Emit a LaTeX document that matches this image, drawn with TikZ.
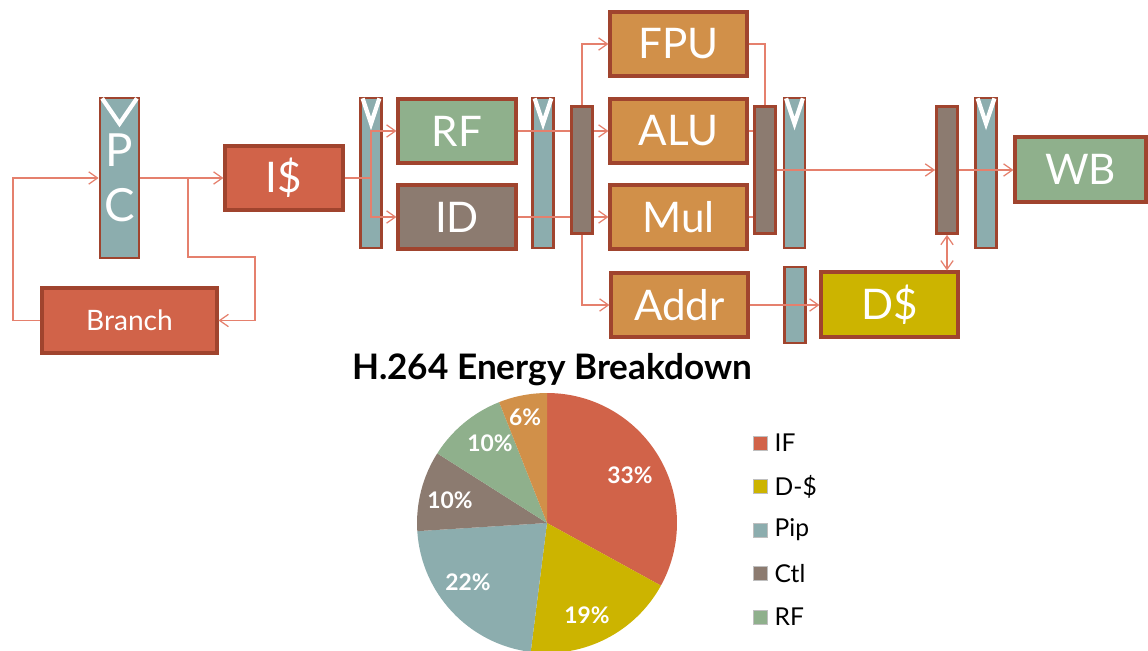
\documentclass[tikz,border=0pt]{standalone}
\usepackage{fontspec}
\setmainfont{Lato}
\usepackage{xcolor}
\definecolor{civred}{HTML}{D16349}
\definecolor{civyellow}{HTML}{CCB400}
\definecolor{civteal}{HTML}{8CADAE}
\definecolor{civbrown}{HTML}{8C7B70}
\definecolor{civgreen}{HTML}{8FB08C}
\definecolor{civorange}{HTML}{D19049}
\definecolor{edgered}{HTML}{A0442E}
\definecolor{linkred}{HTML}{E5806D}
\usetikzlibrary{arrows.meta,positioning,calc}

\begin{document}
\begin{tikzpicture}[x=0.02cm, y=-0.02cm,
  unitbox/.style={draw=edgered, line width=1.8pt, minimum width=2.36cm, minimum height=1.28cm,
    inner sep=0pt, text=white, font=\fontsize{24}{28}\selectfont},
  pipereg/.style={draw=edgered, line width=1.6pt, fill=civteal, minimum width=0.42cm,
    minimum height=3cm, inner sep=0pt},
  muxbox/.style={pipereg, fill=civbrown, minimum height=2.54cm},
  wire/.style={draw=linkred, line width=0.7pt},
  link/.style={wire, -{Straight Barb[length=5pt,width=7pt]}},
  vmark/.style={draw=white, line width=2.4pt},
  pct/.style={text=white, font=\bfseries\fontsize{13}{15}\selectfont},
  legsq/.style={draw=black!25, line width=0.3pt, minimum size=0.28cm, inner sep=0pt},
  legtext/.style={font=\fontsize{14}{16}\selectfont, inner sep=2pt}]
  \fill[white] (0,0) rectangle (1148,651);
  \useasboundingbox (0,0) rectangle (1148,651);

  % Pipeline registers and muxes
  \node[pipereg, minimum width=0.78cm, minimum height=3.2cm, align=center, text=white,
    font=\fontsize{26}{31}\selectfont] (pc) at (119.5,178) {P\\C};
  \foreach \name/\x/\y in {r1/371/173, r2/543/173, r3/794.5/173, r5/986/173}
    \node[pipereg] (\name) at (\x,\y) {};
  \node[pipereg, minimum height=1.52cm] (r4) at (795,305) {};
  \foreach \name/\x in {m1/582, m2/765, m3/947}
    \node[muxbox] (\name) at (\x,170) {};
  \foreach \r in {pc,r1,r2,r3,r5}
    \draw[vmark] ([xshift=2pt,yshift=-1pt]\r.north west) -- ([yshift=-0.54cm]\r.north) -- ([xshift=-2pt,yshift=-1pt]\r.north east);

  % Units
  \node[unitbox, fill=civred] (ic) at (284,178) {I\$};
  \node[unitbox, fill=civred, minimum width=3.5cm, minimum height=1.3cm,
    font=\fontsize{16}{19}\selectfont] (branch) at (129.5,320.5) {Branch};
  \node[unitbox, fill=civgreen] (rf) at (457,131) {RF};
  \node[unitbox, fill=civbrown] (id) at (457,217) {ID};
  \foreach \name/\y/\label in {fpu/44/FPU, alu/131/ALU, mul/217/Mul}
    \node[unitbox, fill=civorange, minimum width=2.74cm] (\name) at (678.5,\y) {\label};
  \node[unitbox, fill=civorange, minimum width=2.74cm] (addr) at (679.5,305) {Addr};
  \node[unitbox, fill=civyellow, minimum width=2.74cm, minimum height=1.3cm] (dc) at (889.5,304.5) {D\$};
  \node[unitbox, fill=civgreen, minimum width=2.62cm, minimum height=1.3cm] (wb) at (1080.5,169.5) {WB};

  % Fetch loop
  \coordinate (j1) at (188,178);
  \coordinate (b1) at (255,257);
  \coordinate (b2) at (13,178);
  \draw[link] (pc.east |- j1) -- (ic.west);
  \draw[link] (j1) |- (b1) |- (branch.east);
  \draw[link] (branch.west) -| (b2) -- (pc.west |- b2);

  % Decode and execute
  \coordinate (j2) at (371,178);
  \draw[wire] (ic.east) -- (j2);
  \draw[link] (j2) |- (rf.west);
  \draw[link] (j2) |- (id.west);
  \draw[wire] (rf.east) -- (rf.east -| m1.west);
  \draw[wire] (id.east) -- (id.east -| m1.west);
  \draw[link] (m1.east |- alu.west) -- (alu.west);
  \draw[link] (m1.east |- mul.west) -- (mul.west);
  \draw[link] (m1.north) |- (fpu.west);
  \draw[link] (m1.south) |- (addr.west);
  \draw[wire] (fpu.east) -| (m2.north);
  \draw[wire] (alu.east) -- (alu.east -| m2.west);
  \draw[wire] (mul.east) -- (mul.east -| m2.west);

  % Memory and writeback
  \draw[link] (m2.east) -- (m3.west);
  \draw[link] (m3.east) -- (m3.east -| wb.west);
  \draw[link] (addr.east) -- (addr.east -| dc.west);
  \draw[wire, {Straight Barb[length=5pt,width=7pt]}-{Straight Barb[length=5pt,width=7pt]}]
    (m3.south) -- (m3.south |- dc.north);

  % Energy pie
  \node[font=\bfseries\fontsize{20}{24}\selectfont] (title) at (552,370) {H.264 Energy Breakdown};
  \coordinate (pie) at (547,523);
  \foreach \a/\b/\c in {90/-28.8/civred, -28.8/-97.2/civyellow, -97.2/-176.4/civteal,
      -176.4/-212.4/civbrown, -212.4/-248.4/civgreen, -248.4/-270/civorange}
    \fill[\c] (pie) -- ++(\a:2.6cm) arc[start angle=\a, end angle=\b, radius=2.6cm] -- cycle;
  \node[pct] (p1) at (630,475) {33\%};
  \node[pct] (p2) at (587,615) {19\%};
  \node[pct] (p3) at (468,582) {22\%};
  \node[pct] (p4) at (450,500) {10\%};
  \node[pct] (p5) at (490,443) {10\%};
  \node[pct] (p6) at (525,417) {6\%};

  % Legend
  \foreach \i/\label/\c in {0/IF/civred, 1/D-\$/civyellow, 2/Pip/civteal, 3/Ctl/civbrown, 4/RF/civgreen} {
    \pgfmathsetmacro{\ypos}{443+\i*43.5}
    \node[legsq, fill=\c] (sq\i) at (760,\ypos) {};
    \node[legtext, right=2pt of sq\i] (lg\i) {\label};
  }
\end{tikzpicture}
\end{document}
